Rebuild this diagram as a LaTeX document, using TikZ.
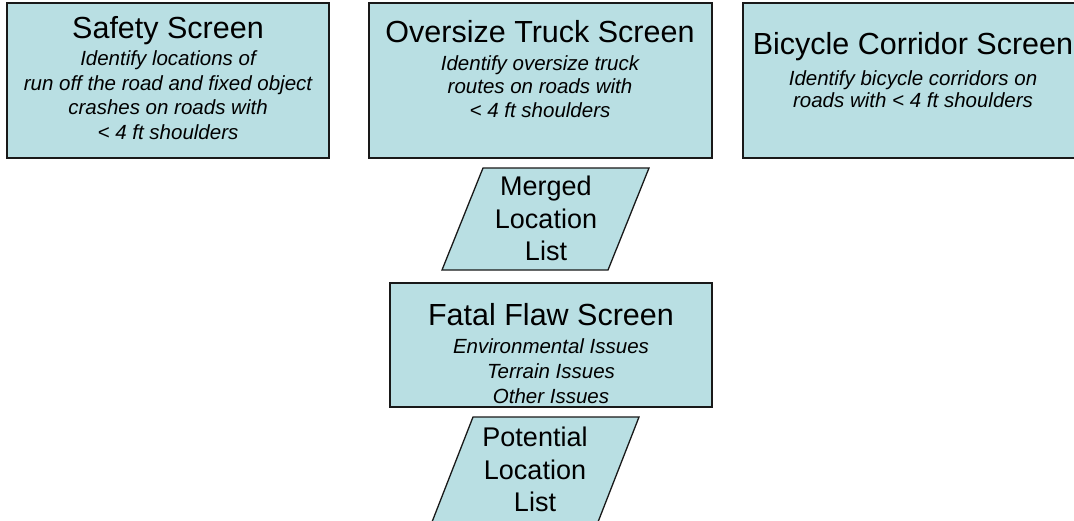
\documentclass[tikz,border=0pt]{standalone}
\usepackage{fontspec}
\setmainfont{Liberation Sans}
\definecolor{boxfill}{RGB}{185,223,227}
\definecolor{boxline}{RGB}{25,25,25}
\tikzset{
  screenbox/.style={draw=boxline, fill=boxfill, line width=1.3pt, rectangle, inner sep=0pt},
  listshape/.style={draw=boxline, fill=boxfill, line width=1.3pt},
  screentext/.style={anchor=north, inner sep=0pt, align=center, text=black},
}
\newcommand{\ttl}[1]{{\fontsize{30.5}{35}\selectfont #1}}
\begin{document}
\begin{tikzpicture}[x=1pt, y=-1pt]
  \useasboundingbox (0,0) rectangle (1074,520);
  \clip (0,0) rectangle (1074,520);

  % three screening boxes along the top
  \node[screenbox, minimum width=322pt, minimum height=155pt] (safety) at (168,80.5) {};
  \node[screenbox, minimum width=343pt, minimum height=155pt] (truck) at (540.5,80.5) {};
  \node[screenbox, minimum width=340pt, minimum height=155pt] (bike) at (913,80.5) {};

  \node[screentext, font=\fontsize{20.5}{24.5}\selectfont] (safety-t) at (168,16)
    {\ttl{Safety Screen}\\[3pt]
     \itshape Identify locations of\\
     \itshape run off the road and fixed object\\
     \itshape crashes on roads with\\
     \itshape < 4 ft shoulders};
  \node[screentext, font=\fontsize{20.5}{23.5}\selectfont] (truck-t) at (540,20)
    {\ttl{Oversize Truck Screen}\\[4.5pt]
     \itshape Identify oversize truck\\
     \itshape routes on roads with\\
     \itshape < 4 ft shoulders};
  \node[screentext, font=\fontsize{20.5}{22}\selectfont] (bike-t) at (913,32)
    {\ttl{Bicycle Corridor Screen}\\[9pt]
     \itshape Identify bicycle corridors on\\
     \itshape roads with < 4 ft shoulders};

  % merged list (parallelogram)
  \coordinate (m-nw) at (483,168);
  \coordinate (m-ne) at (649,168);
  \coordinate (m-se) at (608,270);
  \coordinate (m-sw) at (442,270);
  \draw[listshape] (m-nw) -- (m-ne) -- (m-se) -- (m-sw) -- cycle;
  \node[screentext, font=\fontsize{27}{32.5}\selectfont] (merged) at (546,176)
    {Merged\\Location\\List};

  % fatal flaw screen
  \node[screenbox, minimum width=322pt, minimum height=124pt] (fatal) at (551,345) {};
  \node[screentext, font=\fontsize{20.5}{25}\selectfont] (fatal-t) at (551,303)
    {\ttl{Fatal Flaw Screen}\\[3pt]
     \itshape Environmental Issues\\
     \itshape Terrain Issues\\
     \itshape Other Issues};

  % potential list (parallelogram)
  \coordinate (p-nw) at (473,417);
  \coordinate (p-ne) at (639,417);
  \coordinate (p-se) at (598,522);
  \coordinate (p-sw) at (432,522);
  \draw[listshape] (p-nw) -- (p-ne) -- (p-se) -- (p-sw) -- cycle;
  \node[screentext, font=\fontsize{27}{32.5}\selectfont] (potential) at (535,427)
    {Potential\\Location\\List};
\end{tikzpicture}
\end{document}
